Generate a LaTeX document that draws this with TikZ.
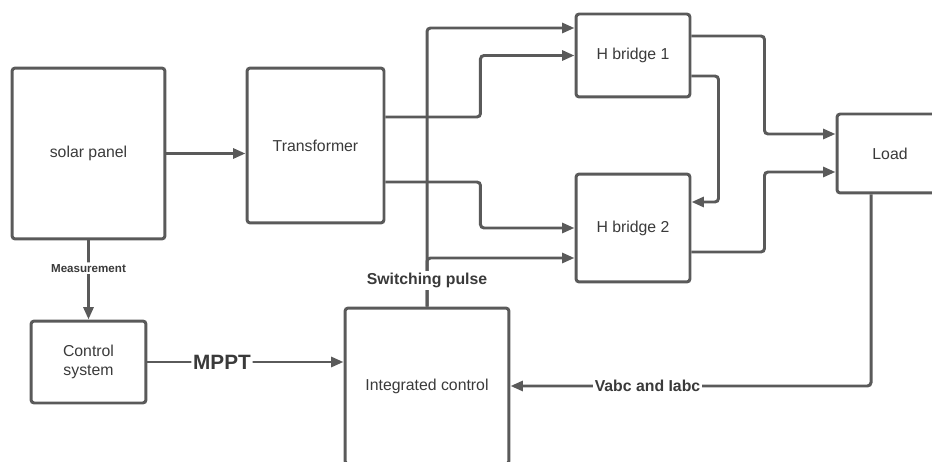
\documentclass[tikz,border=0pt]{standalone}
\usepackage{fontspec}
\setmainfont{Liberation Sans}
\usetikzlibrary{arrows.meta}
\usetikzlibrary{calc}
\definecolor{linegray}{HTML}{5A5A5A}
\definecolor{textgray}{HTML}{3A3A3A}
\tikzset{
block/.style=
    { % Sets the properties for each block
        draw=linegray,
        line width=1.7pt,
        rounded corners=1.8pt,
        text=textgray,
        align=center,
        font=\fontsize{9}{11}\selectfont
    },
conn/.style={ % Sets the properties for each connector
        draw=linegray,
        line width=1.7pt,
        rounded corners=2pt,
        ->,>={Triangle[length=7pt,width=5.6pt]} % Filled triangle heads
    },
sig/.style={ % Bold signal names sitting on the lines
        fill=white,
        inner sep=1pt,
        text=textgray,
        font=\bfseries\fontsize{9}{11}\selectfont
    }
}

\begin{document}
\begin{tikzpicture}[x=0.02cm,y=-0.02cm] % one unit = one pixel, y going down
\useasboundingbox (0,0) rectangle (932,462);

\node [block,minimum width=3.06cm,minimum height=3.42cm] (sp)  at (88.5,153.5) {solar panel};
\node [block,minimum width=2.74cm,minimum height=3.1cm]  (tr)  at (315.5,145.5) {Transformer};
\node [block,minimum width=2.28cm,minimum height=1.66cm] (hb1) at (633,55.5) {H bridge 1};
\node [block,minimum width=2.28cm,minimum height=2.16cm] (hb2) at (633,228) {H bridge 2};
\node [block,minimum width=2.12cm,minimum height=1.58cm] (ld)  at (890,153.5) {Load};
\node [block,minimum width=2.3cm,minimum height=1.64cm]  (cs)  at (88.5,362) {Control\\system};
\node [block,minimum width=3.28cm,minimum height=3.12cm] (ic)  at (427,386) {Integrated control};

% power path
\draw [conn] (sp.east) -- (sp.east -| tr.west);
\draw [conn] ($(tr.east)+(0,-28.5)$) -- ++(95,0) |- (hb1.west);
\draw [conn] ($(tr.east)+(0,36.5)$) -- ++(95,0) |- (hb2.west);
\draw [conn] ($(hb1.east)+(0,-19.5)$) -- ++(73,0) |- ($(ld.west)+(0,-19.5)$);
\draw [conn] ($(hb1.east)+(0,20.5)$) -- ++(27,0) |- ($(hb2.east)+(0,-26)$);
\draw [conn] ($(hb2.east)+(0,24)$) -- ++(73,0) |- ($(ld.west)+(0,18.5)$);

% control path
\draw [conn] (ic.north) |- ($(hb1.west)+(0,-27.5)$);
\draw [conn] (ic.north) |- ($(hb2.west)+(0,30)$);
\draw [conn] (sp.south) -- node[sig,pos=0.35,font=\bfseries\fontsize{6.6}{8}\selectfont] (meas) {Measurement} (cs.north);
\draw [conn] (cs.east) -- node[sig,pos=0.38,font=\bfseries\fontsize{11.8}{14}\selectfont] (mppt) {MPPT} (cs.east -| ic.west);
\draw [conn] ($(ld.south)+(-19,0)$) |- node[sig,pos=0.81] (vi) {Vabc and Iabc} (ic.east);
\node [sig] (sw) at ($(ic.north)+(0,-26)$) {Switching pulse};
\end{tikzpicture}
\end{document}
